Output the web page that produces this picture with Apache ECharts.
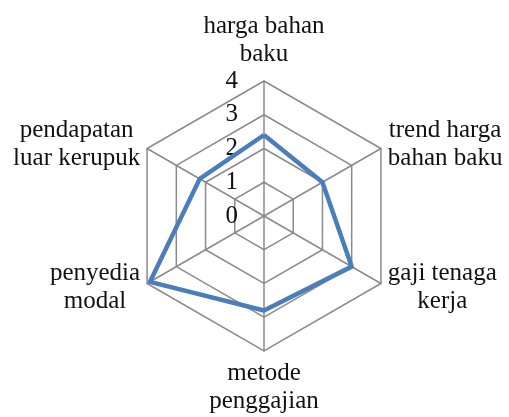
<!DOCTYPE html>
<html>
<head>
  <meta charset="utf-8" />
  <title>Radar</title>
  <script src="https://cdn.jsdelivr.net/npm/echarts/dist/echarts.min.js"></script>
  <style>
    html, body { margin: 0; padding: 0; background: #fff; }
    #chart { width: 509px; height: 417px; }
  </style>
</head>
<body>
  <div id="chart"></div>
  <script>
    // indicator names (clockwise from top) and values
    const indicators = [
      'harga bahan\nbaku',
      'trend harga\nbahan baku',
      'gaji tenaga\nkerja',
      'metode\npenggajian',
      'penyedia\nmodal',
      'pendapatan\nluar kerupuk'
    ];
    const values = [2.4, 2.0, 3.0, 2.8, 3.9, 2.2];
    const axisMax = 4;

    const FONT = '"Liberation Serif", "Times New Roman", serif';

    // echarts lays indicators out counter-clockwise, so keep the first and reverse the rest
    const order = [0].concat(indicators.map((_, i) => i).slice(1).reverse());

    const myChart = echarts.init(document.getElementById('chart'));
    myChart.setOption({
      animation: false,
      radar: {
        center: [264, 216],
        radius: 135,
        startAngle: 90,
        shape: 'polygon',
        splitNumber: 4,
        nameGap: 8,
        indicator: order.map((k, i) => ({
          name: indicators[k],
          min: 0,
          max: axisMax,
          axisLabel: { show: i === 0 }
        })),
        axisName: {
          color: '#111',
          fontFamily: FONT,
          fontSize: 25,
          lineHeight: 28,
          formatter: function (name) {
            return name.split('\n').map(l => '{c|' + l + '}').join('\n');
          },
          rich: {
            c: { align: 'center', color: '#111', fontFamily: FONT, fontSize: 25, lineHeight: 28 }
          }
        },
        axisLine: { lineStyle: { color: '#8a8a8a', width: 1.5 } },
        splitLine: { lineStyle: { color: '#8a8a8a', width: 1.5 } },
        splitArea: { show: false },
        axisTick: { show: false },
        axisLabel: {
          show: false,
          color: '#111',
          fontFamily: FONT,
          fontSize: 25,
          margin: 26
        }
      },
      series: [{
        type: 'radar',
        symbol: 'none',
        lineStyle: { color: '#4a7ebb', width: 4.5 },
        data: [{ value: order.map(k => values[k]) }]
      }]
    });
  </script>
</body>
</html>
